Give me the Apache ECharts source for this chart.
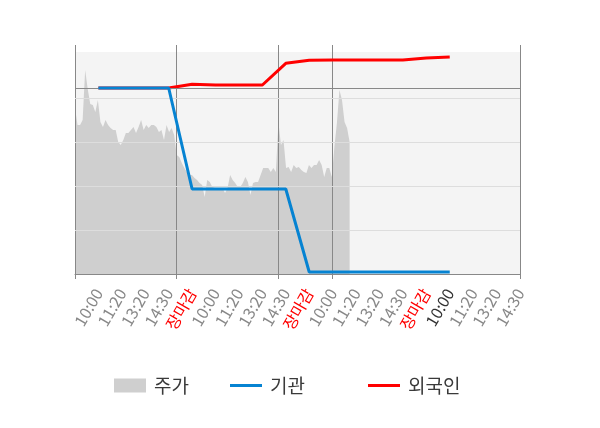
<!DOCTYPE html>
<html>
<head>
<meta charset="utf-8">
<script src="https://cdn.jsdelivr.net/npm/echarts@6/dist/echarts.min.js"></script>
<style>
html,body{margin:0;padding:0;background:#ffffff;}
#chart{width:600px;height:428px;}
</style>
</head>
<body>
<div id="chart"></div>
<script>
// ---- data ----
const timeLabels = ['', '10:00', '11:20', '13:20', '14:30', '장마감',
  '10:00', '11:20', '13:20', '14:30', '장마감',
  '10:00', '11:20', '13:20', '14:30', '장마감',
  '10:00', '11:20', '13:20', '14:30'];

// intraday price (relative units), 4 sessions
const priceValues = [
  166,149,149,154,204,185,170,169,162,174,152,147,154,149,146,144,144,132,129,134,
  141,141,144,147,141,147,154,144,149,146,149,149,147,142,144,134,149,142,146,139,
  119,117,111,106,102,99,99,96,94,91,89,77,94,92,87,86,86,86,86,81,
  86,99,94,91,87,87,91,97,92,79,91,92,92,99,106,106,106,102,106,102,
  152,129,134,106,107,102,109,106,107,104,102,101,109,106,109,109,114,109,97,106,
  106,97,127,151,184,174,152,146,132
];
const priceSlotCount = 176;          // slots on the intraday axis
const sessionStartSlots = [0, 40, 80, 101, 175];
const priceGridValues = [44, 88, 132, 176];
const priceAxisMax = 229;
const priceBandMax = 222;

// cumulative net buying
const institutionValues = [null, 0, 0, 0, 0, -101, -101, -101, -101, -101,
  -184, -184, -184, -184, -184, -184, -184, null, null, null];
const foreignValues = [null, 0, 0, 0, 0, 3.7, 3, 3, 3, 24.7,
  27.7, 28, 28, 28, 28, 30, 31, null, null, null];
const investorAxisMin = -186;
const investorAxisMax = 43;

const seriesNames = ['주가', '기관', '외국인'];
const colors = { price: '#cfcfcf', inst: '#0683d2', foreign: '#ff0000' };
const labelColors = { time: '#888888', close: '#ff0000', today: '#333333' };

// ---- chart ----
const font = "'Noto Sans CJK KR', 'Noto Sans', sans-serif";
const slots = Array.from({length: priceSlotCount}, (_, i) => String(i));
const isSessionStart = (idx) => sessionStartSlots.indexOf(idx) >= 0;

const legendBase = {
  top: 376, itemWidth: 32, itemGap: 0, padding: 0,
  textStyle: { fontFamily: font, fontSize: 19, color: '#3a3a3a', padding: [0, 0, 0, 3] }
};

const chart = echarts.init(document.getElementById('chart'), null, { renderer: 'canvas' });
chart.setOption({
  animation: false,
  backgroundColor: '#ffffff',
  grid: { left: 75, right: 80, top: 45, bottom: 154, containLabel: false },
  legend: [
    Object.assign({}, legendBase, { left: 114, itemHeight: 14, data: [{ name: seriesNames[0], icon: 'rect' }] }),
    Object.assign({}, legendBase, { left: 230, itemHeight: 3, data: [{ name: seriesNames[1], icon: 'rect' }] }),
    Object.assign({}, legendBase, { left: 368, itemHeight: 3, data: [{ name: seriesNames[2], icon: 'rect' }] })
  ],
  xAxis: [
    {
      type: 'category', data: slots, boundaryGap: false, position: 'bottom', z: 3,
      axisLine: { show: true, onZero: false, lineStyle: { color: '#888888', width: 1 } },
      axisTick: { show: true, length: 5, interval: isSessionStart, lineStyle: { color: '#888888' } },
      splitLine: { show: true, interval: isSessionStart, lineStyle: { color: '#888888', width: 1 } },
      axisLabel: { show: false }
    },
    {
      type: 'category', data: timeLabels, boundaryGap: false, position: 'bottom',
      axisLine: { show: false, onZero: false },
      axisTick: { show: false },
      splitLine: { show: false },
      axisLabel: {
        show: true, interval: 0, rotate: 60, margin: 16,
        fontFamily: font, fontSize: 16,
        color: (value, index) => value === '장마감' ? labelColors.close
          : (index === 16 ? labelColors.today : labelColors.time)
      }
    }
  ],
  yAxis: [
    { type: 'value', min: 0, max: priceAxisMax, show: false, splitLine: { show: false } },
    { type: 'value', min: investorAxisMin, max: investorAxisMax, show: false, splitLine: { show: false } }
  ],
  series: [
    {
      type: 'line', data: [], xAxisIndex: 0, yAxisIndex: 0, z: 1, silent: true,
      markArea: {
        silent: true,
        itemStyle: { color: '#f4f4f4' },
        data: [[{ yAxis: 0 }, { yAxis: priceBandMax }]]
      }
    },
    {
      name: seriesNames[0], type: 'line', data: priceValues, xAxisIndex: 0, yAxisIndex: 0, z: 2,
      symbol: 'none', showSymbol: false,
      lineStyle: { width: 0, color: colors.price },
      itemStyle: { color: colors.price },
      areaStyle: { color: colors.price, opacity: 1 },
      markLine: {
        silent: true, symbol: ['none', 'none'], label: { show: false },
        lineStyle: { color: '#dddddd', width: 1, type: 'solid' },
        data: priceGridValues.map(v => ({ yAxis: v }))
      }
    },
    {
      name: seriesNames[2], type: 'line', data: foreignValues, xAxisIndex: 1, yAxisIndex: 1, z: 4,
      symbol: 'none', showSymbol: false,
      lineStyle: { width: 3, color: colors.foreign },
      itemStyle: { color: colors.foreign },
      markLine: {
        silent: true, symbol: ['none', 'none'], label: { show: false },
        lineStyle: { color: '#888888', width: 1, type: 'solid' },
        data: [{ yAxis: 0 }]
      }
    },
    {
      name: seriesNames[1], type: 'line', data: institutionValues, xAxisIndex: 1, yAxisIndex: 1, z: 5,
      symbol: 'none', showSymbol: false,
      lineStyle: { width: 3, color: colors.inst },
      itemStyle: { color: colors.inst }
    }
  ]
});
</script>
</body>
</html>
